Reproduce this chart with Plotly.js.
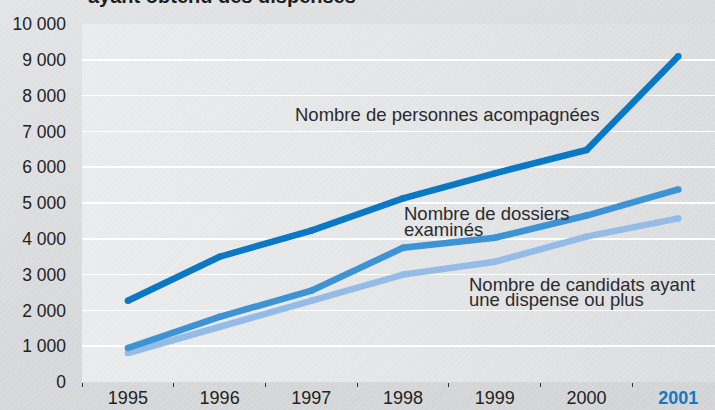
<!DOCTYPE html>
<html>
<head>
<meta charset="utf-8">
<script src="https://cdn.plot.ly/plotly-3.0.1.min.js"></script>
<style>
  html, body { margin: 0; padding: 0; }
  #wrap {
    position: relative; width: 715px; height: 410px; overflow: hidden;
    background:
      repeating-linear-gradient(135deg, rgba(255,255,255,0.10) 0px, rgba(255,255,255,0.10) 1px, rgba(0,0,0,0) 1px, rgba(0,0,0,0) 4px),
      linear-gradient(160deg, #e3e4e6 0%, #d7d8da 55%, #d3d4d6 100%);
  }
  #plotbg {
    position: absolute; left: 82px; top: 24px; width: 633px; height: 358px;
    background:
      repeating-linear-gradient(135deg, rgba(255,255,255,0.12) 0px, rgba(255,255,255,0.12) 1px, rgba(0,0,0,0) 1px, rgba(0,0,0,0) 4px),
      linear-gradient(90deg, #eaebec 0%, #e3e4e6 60%, #dbdcde 100%);
  }
  #chart { position: absolute; left: 0; top: 0; width: 715px; height: 410px; }
</style>
</head>
<body>
<div id="wrap">
  <div id="plotbg"></div>
  <div id="chart"></div>
</div>
<script>
const years = ['1995', '1996', '1997', '1998', '1999', '2000', '2001'];
const yearLabels = ['1995', '1996', '1997', '1998', '1999', '2000', '<b><span style="color:#1579c2">2001</span></b>'];
const personnesAccompagnees = [2270, 3500, 4230, 5130, 5830, 6480, 9100];
const dossiersExamines = [950, 1820, 2550, 3750, 4030, 4650, 5380];
const candidatsDispense = [810, 1540, 2270, 3000, 3360, 4060, 4570];
const yTicks = [0, 1000, 2000, 3000, 4000, 5000, 6000, 7000, 8000, 9000, 10000];

const colors = { dark: '#0b78c4', mid: '#3d93d3', light: '#94bce6' };

function series(y, color) {
  return {
    type: 'scatter', mode: 'lines+markers', x: years, y: y,
    line: { color: color, width: 6.5 },
    marker: { color: color, size: 6.5 },
    hoverinfo: 'skip', showlegend: false, cliponaxis: false
  };
}

const data = [
  series(candidatsDispense, colors.light),
  series(dossiersExamines, colors.mid),
  series(personnesAccompagnees, colors.dark)
];

const txt = { family: 'Liberation Sans, Arial, sans-serif', size: 18.5, color: '#2b2b2b' };
function px2x(px) { return (px - 82) / 633; }
function py2y(py) { return (382 - py) / 358; }
function label(text, xpx, ypx) {
  return { text: text, xref: 'paper', yref: 'paper', x: px2x(xpx), y: py2y(ypx),
           xanchor: 'left', yanchor: 'middle', showarrow: false, font: txt };
}

const layout = {
  width: 715, height: 410,
  margin: { l: 82, r: 0, t: 24, b: 28, pad: 0 },
  paper_bgcolor: 'rgba(0,0,0,0)',
  plot_bgcolor: 'rgba(0,0,0,0)',
  separators: ', ',
  font: { family: 'Liberation Sans, Arial, sans-serif', color: '#222' },
  xaxis: {
    type: 'category', range: [-0.5, 6.4],
    tickmode: 'array', tickvals: years, ticktext: yearLabels,
    tickson: 'boundaries', ticks: 'outside', ticklen: 4, tickwidth: 1, tickcolor: '#333',
    ticklabelstandoff: 3,
    showgrid: false, zeroline: false, showline: false,
    tickfont: { size: 18, color: '#222' }
  },
  yaxis: {
    range: [0, 10000], tickvals: yTicks, tickformat: ',d',
    showgrid: true, gridcolor: '#ffffff', gridwidth: 1.5,
    zeroline: false, showline: false, ticks: '',
    ticklabelstandoff: 15,
    tickfont: { size: 17.5, color: '#222' }
  },
  annotations: [
    { text: '<b>ayant obtenu des dispenses</b>', xref: 'paper', yref: 'paper',
      x: px2x(86), y: py2y(-4), xanchor: 'left', yanchor: 'middle', showarrow: false,
      font: { family: 'Liberation Sans, Arial, sans-serif', size: 20, color: '#1e1e1e' } },
    label('Nombre de personnes acompagnées', 293, 114),
    label('Nombre de dossiers', 402, 213),
    label('examinés', 402, 229),
    label('Nombre de candidats ayant', 467, 284),
    label('une dispense ou plus', 467, 299)
  ]
};

Plotly.newPlot('chart', data, layout, { displayModeBar: false, staticPlot: true });
</script>
</body>
</html>
